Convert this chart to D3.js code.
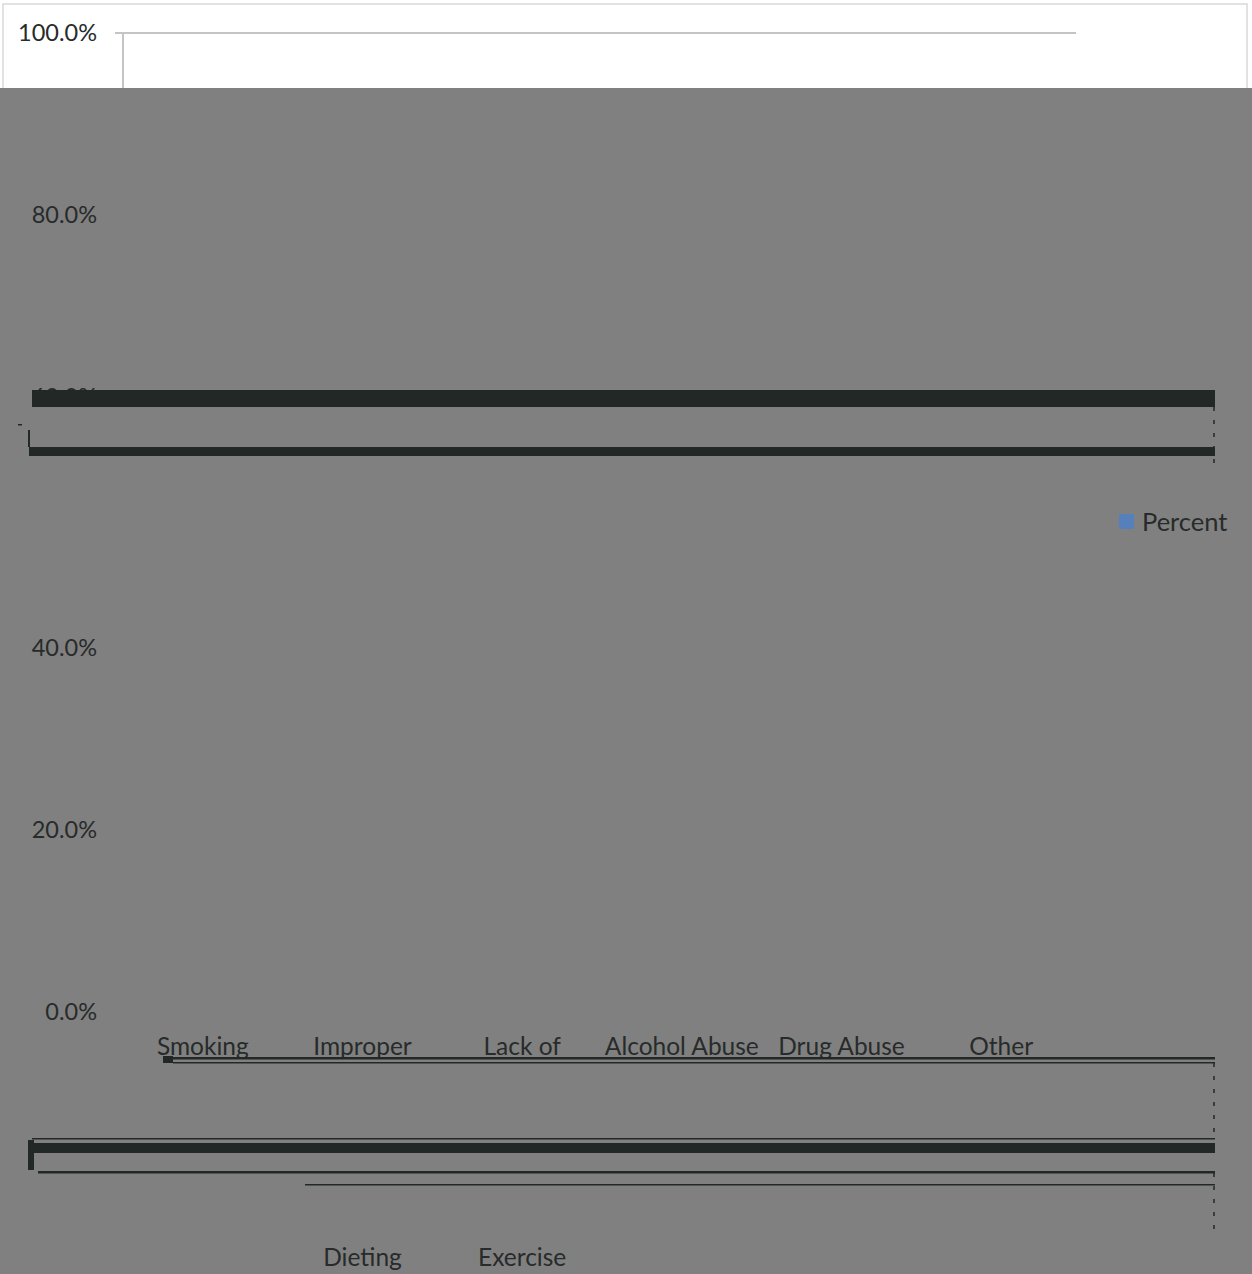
<!DOCTYPE html>
<html>
<head>
<meta charset="utf-8">
<script src="https://cdn.jsdelivr.net/npm/d3@7"></script>
<style>
  html, body { margin: 0; padding: 0; background: #fff; }
  svg { display: block; font-family: Lato, "Open Sans", sans-serif; }
</style>
</head>
<body>
<div id="chart"></div>
<script>
// categories, first and second line of each label
const categories = ["Smoking", "Improper Dieting", "Lack of Exercise", "Alcohol Abuse", "Drug Abuse", "Other"];
const labelLine1 = ["Smoking", "Improper", "Lack of", "Alcohol Abuse", "Drug Abuse", "Other"];
const labelLine2 = ["", "Dieting", "Exercise", "", "", ""];
// bar heights are not readable: the scan hides the whole plot under a grey block
const percent = [null, null, null, null, null, null];
const yTicks = [0, 0.2, 0.4, 0.6, 0.8, 1.0];
const seriesName = "Percent";

const W = 1252, H = 1274;
const textColor = "#272b2a";
const scanGrey = "#808080";
const scanDark = "#222826";

const svg = d3.select("#chart")
    .append("svg")
    .attr("width", W)
    .attr("height", H);

// chart frame
svg.append("rect")
    .attr("x", 3).attr("y", 4)
    .attr("width", 1244).attr("height", 1260)
    .attr("fill", "#fff")
    .attr("stroke", "#d9d9d9")
    .attr("stroke-width", 1.5);

const x = d3.scaleBand()
    .domain(categories)
    .range([123, 1081])
    .paddingInner(0.35)
    .paddingOuter(0.175);

// the scan stretches the picture between 40% and 60%, so the scale is piecewise
const y = d3.scaleLinear()
    .domain([0, 0.2, 0.4, 0.6, 0.8, 1.0])
    .range([1012, 830, 648, 397, 215, 33]);

const plot = svg.append("g").attr("class", "plot");

// gridlines
plot.selectAll("line.grid")
    .data(yTicks)
    .join("line")
    .attr("class", "grid")
    .attr("x1", 115)
    .attr("x2", 1076)
    .attr("y1", d => y(d))
    .attr("y2", d => y(d))
    .attr("stroke", "#c4c4c4")
    .attr("stroke-width", 2);

plot.append("line")
    .attr("x1", 123).attr("x2", 123)
    .attr("y1", y(1)).attr("y2", y(0))
    .attr("stroke", "#c4c4c4")
    .attr("stroke-width", 2);

plot.selectAll("rect.bar")
    .data(categories.map((c, i) => ({ c, v: percent[i] })).filter(d => d.v != null))
    .join("rect")
    .attr("class", "bar")
    .attr("x", d => x(d.c))
    .attr("width", x.bandwidth())
    .attr("y", d => y(d.v))
    .attr("height", d => y(0) - y(d.v))
    .attr("fill", "#4F81BD");

// grey block of the scan
svg.append("rect")
    .attr("x", 0).attr("y", 88)
    .attr("width", W).attr("height", H - 88)
    .attr("fill", scanGrey);

// y tick labels
const fmt = d3.format(".1%");
svg.selectAll("text.ytick")
    .data(yTicks)
    .join("text")
    .attr("class", "ytick")
    .attr("x", 97)
    .attr("y", d => y(d))
    .attr("dy", "0.36em")
    .attr("text-anchor", "end")
    .attr("font-size", 23.5)
    .attr("fill", textColor)
    .text(d => fmt(d));

// category labels
const labelY1 = 1046, labelY2 = 1257;
const cats = svg.selectAll("g.cat")
    .data(categories)
    .join("g")
    .attr("class", "cat")
    .attr("transform", d => `translate(${x(d) + x.bandwidth() / 2},0)`);

cats.append("text")
    .attr("y", labelY1)
    .attr("dy", "0.36em")
    .attr("text-anchor", "middle")
    .attr("font-size", 24.5)
    .attr("fill", textColor)
    .text((d, i) => labelLine1[i]);

cats.append("text")
    .attr("y", labelY2)
    .attr("dy", "0.36em")
    .attr("text-anchor", "middle")
    .attr("font-size", 24.5)
    .attr("fill", textColor)
    .text((d, i) => labelLine2[i]);

// legend
const legend = svg.append("g").attr("transform", "translate(1119,514)");
legend.append("rect")
    .attr("width", 15).attr("height", 15)
    .attr("fill", "#5580BC");
legend.append("text")
    .attr("x", 23).attr("y", 8)
    .attr("dy", "0.36em")
    .attr("font-size", 25.5)
    .attr("fill", textColor)
    .text(seriesName);

// dark streaks left by the scan
const streaks = [
    { x: 32, y: 390, w: 1183, h: 17 },
    { x: 29, y: 447, w: 1186, h: 9 },
    { x: 163, y: 1056, w: 10, h: 7 },
    { x: 173, y: 1057, w: 1042, h: 2.5 },
    { x: 173, y: 1062, w: 1042, h: 1.5 },
    { x: 32, y: 1138, w: 1183, h: 1.5 },
    { x: 30, y: 1143, w: 1185, h: 10 },
    { x: 38, y: 1171, w: 1177, h: 2.5 },
    { x: 305, y: 1184, w: 910, h: 1.5 },
    { x: 28, y: 1140, w: 6, h: 30 },
    { x: 28, y: 430, w: 2, h: 17 },
    { x: 18, y: 424, w: 4, h: 1.5 }
];
svg.selectAll("rect.streak")
    .data(streaks)
    .join("rect")
    .attr("class", "streak")
    .attr("x", d => d.x).attr("y", d => d.y)
    .attr("width", d => d.w).attr("height", d => d.h)
    .attr("fill", scanDark);

// broken right edge of the streaks
const edges = [[407, 470], [1063, 1139], [1173, 1235]];
svg.selectAll("line.edge")
    .data(edges)
    .join("line")
    .attr("class", "edge")
    .attr("x1", 1214).attr("x2", 1214)
    .attr("y1", d => d[0]).attr("y2", d => d[1])
    .attr("stroke", scanDark)
    .attr("stroke-width", 1.5)
    .attr("stroke-dasharray", "4,9");
</script>
</body>
</html>
